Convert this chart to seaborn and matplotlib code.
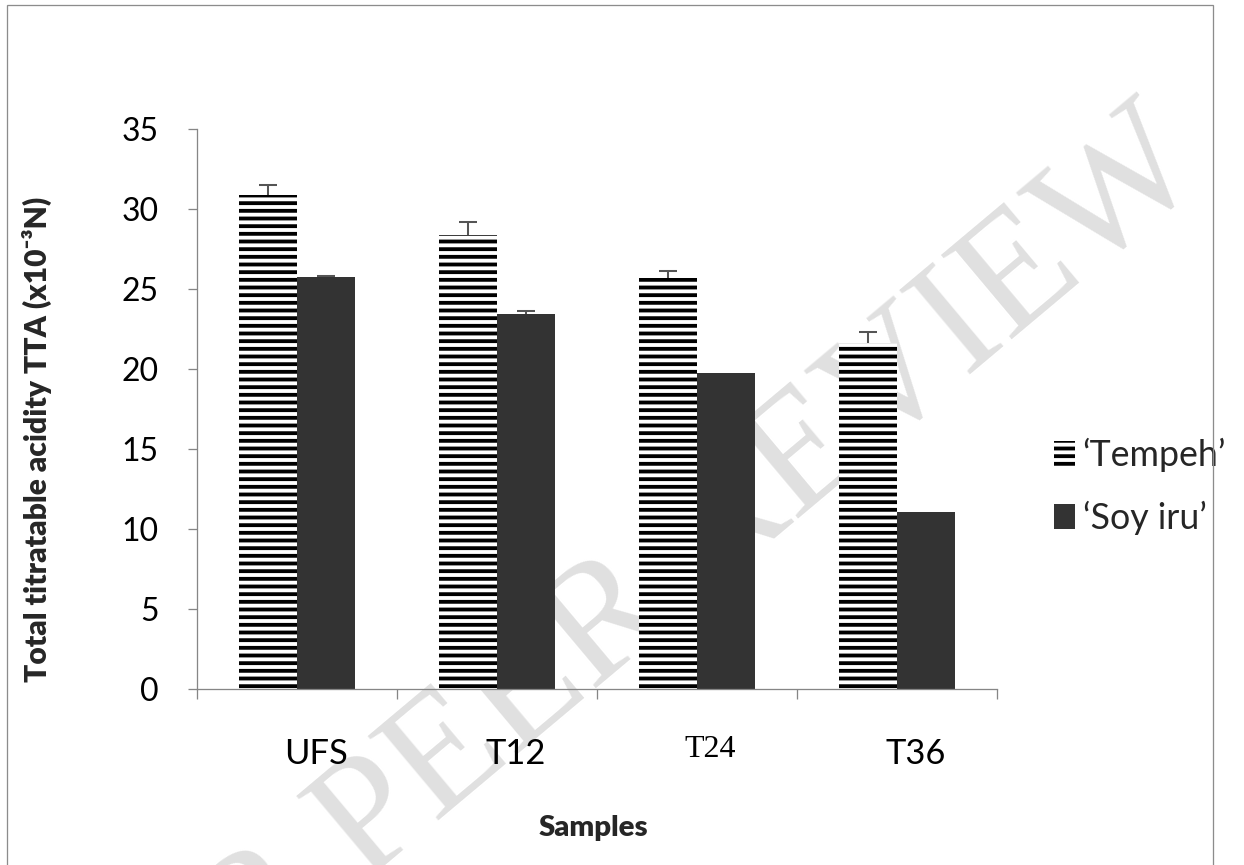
import numpy as np
import pandas as pd
import matplotlib.pyplot as plt
import seaborn as sns
from matplotlib.patches import Rectangle
from matplotlib.transforms import ScaledTranslation

# values (x10^-3 N)
samples = ['UFS', 'T12', 'T24', 'T36']
series = ['\u2018Tempeh\u2019', '\u2018Soy iru\u2019']
tempeh = [30.9, 28.4, 25.7, 21.6]
tempeh_err = [0.6, 0.8, 0.4, 0.7]
soy_iru = [25.75, 23.45, 19.75, 11.05]
soy_iru_err = [0.05, 0.15, 0.0, 0.0]
yticks = [0, 5, 10, 15, 20, 25, 30, 35]

df = pd.DataFrame({
    'Samples': samples * 2,
    'TTA': tempeh + soy_iru,
    'Product': [series[0]] * len(samples) + [series[1]] * len(samples),
})
errs = [tempeh_err, soy_iru_err]

DPI = 92
W, H = 1244, 865

sns.set_theme(style='white')
plt.rcParams['font.family'] = ['Lato', 'DejaVu Sans']
plt.rcParams['hatch.linewidth'] = 3.0

fig = plt.figure(figsize=(W / DPI, H / DPI), dpi=DPI)
ax = fig.add_axes([197 / W, 1 - 689 / H, 800 / W, 560 / H])
ax.patch.set_alpha(0)

sns.barplot(data=df, x='Samples', y='TTA', hue='Product', order=samples,
            hue_order=series, palette=['white', '#333333'], saturation=1,
            width=0.58, gap=0, errorbar=None, ax=ax, zorder=2)

# striped tempeh bars, flat soy iru bars
for bar in ax.containers[0]:
    bar.set_hatch('--')
    bar.set_edgecolor('black')
    bar.set_linewidth(0)
for bar in ax.containers[1]:
    bar.set_linewidth(0)

# plus-only error bars
for cont, e in zip(ax.containers, errs):
    xs, ys, es = [], [], []
    for bar, ev in zip(cont, e):
        if ev > 0:
            xs.append(bar.get_x() + bar.get_width() / 2)
            ys.append(bar.get_height())
            es.append(ev)
    _, caps, _ = ax.errorbar(xs, ys, yerr=[np.zeros(len(es)), es], fmt='none',
                             ecolor='#555555', elinewidth=1.6, capsize=7,
                             capthick=1.6, zorder=3)
    caps[0].set_visible(False)

ax.set_xlim(-0.5, 3.5)
ax.set_ylim(0, 35)
ax.set_yticks(yticks)
ax.set_xticks(range(len(samples)))
ax.set_xticklabels(samples)
ax.set_xticks(np.arange(-0.5, len(samples), 1), minor=True)

sns.despine(ax=ax)
for s in ['left', 'bottom']:
    ax.spines[s].set_color('#868686')
    ax.spines[s].set_linewidth(1)

ax.tick_params(axis='y', length=7, width=1, color='#868686', pad=23,
               labelsize=25, labelcolor='black', left=True)
ax.tick_params(axis='x', which='major', length=0, pad=38, labelsize=27,
               labelcolor='black')
ax.tick_params(axis='x', which='minor', length=8, width=1, color='#868686',
               bottom=True)

for lbl in ax.get_xticklabels():
    dx, dy = 19, 0
    if lbl.get_text() == 'T24':
        lbl.set_fontfamily('Liberation Serif')
        lbl.set_fontsize(25)
        dx, dy = 13, 3
    lbl.set_transform(lbl.get_transform() +
                      ScaledTranslation(dx / DPI, dy / DPI, fig.dpi_scale_trans))

ax.set_xlabel('Samples', fontsize=23, fontweight='heavy')
ax.set_ylabel('Total titratable acidity TTA (x10\u207b\u00b3N)', fontsize=23.5,
              fontweight='heavy')
ax.xaxis.set_label_coords(0.495, -0.225)
ax.yaxis.set_label_coords(-0.181, 0.445)

handles = [ax.containers[0][0], ax.containers[1][0]]
ax.legend(handles, series, loc='center left', frameon=False,
          bbox_to_anchor=(1054 / W, 1 - 486 / H), bbox_transform=fig.transFigure,
          fontsize=28, handlelength=0.6, handleheight=0.7, handletextpad=0.2,
          labelspacing=0.8, borderpad=0, borderaxespad=0)

# page frame and watermark
fig.add_artist(Rectangle((7 / W, -0.01), (1213 - 7) / W, 1 - 5 / H + 0.01,
                         transform=fig.transFigure, fill=False,
                         edgecolor='#8c8c8c', linewidth=1))
fig.text(1208 / W, 1 - 175 / H, 'UNDER PEER REVIEW', rotation=40,
         rotation_mode='anchor', ha='right', va='baseline', fontsize=131,
         family='Liberation Serif', color='#e0e0e0', zorder=-5)

fig.savefig('out.png', dpi=DPI)
